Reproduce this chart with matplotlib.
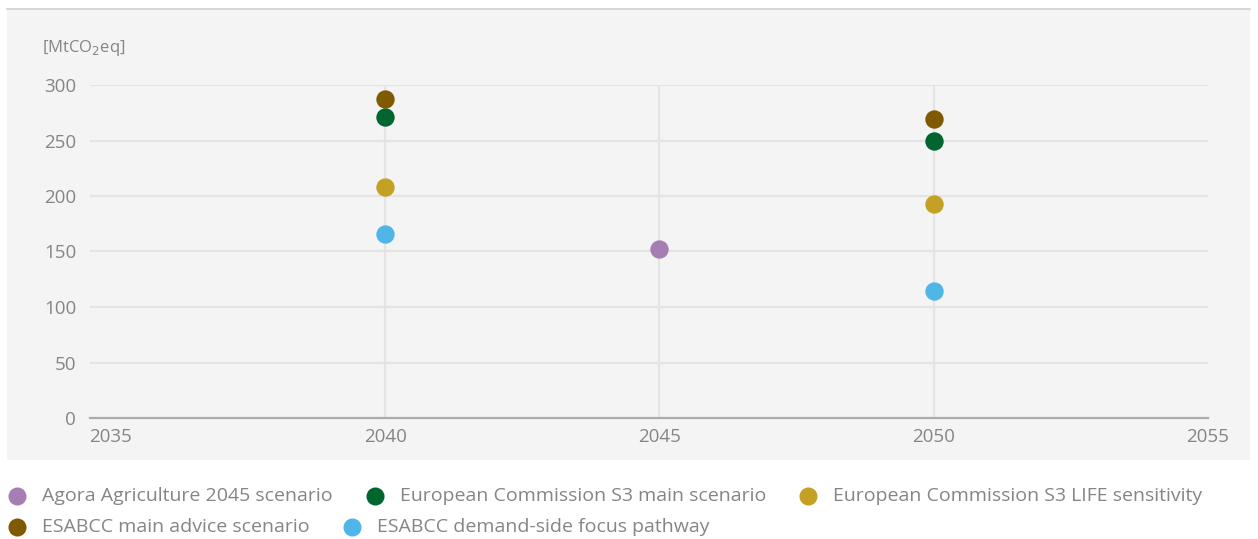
import matplotlib
matplotlib.use("Agg")
import matplotlib.pyplot as plt
from matplotlib.patches import Rectangle
from matplotlib.lines import Line2D

plt.rcParams['font.family'] = ['Open Sans', 'DejaVu Sans']

# data
series_names = ["Agora Agriculture 2045 scenario",
                "European Commission S3 main scenario",
                "European Commission S3 LIFE sensitivity",
                "ESABCC main advice scenario",
                "ESABCC demand-side focus pathway"]
series_colors = ["#A57FB3", "#00652E", "#C4A024", "#7F5A00", "#50B6E8"]
series_years = [[2045], [2040, 2050], [2040, 2050], [2040, 2050], [2040, 2050]]
series_values = [[152], [271, 250], [208, 193], [287, 269], [166, 114]]
x_ticks = [2035, 2040, 2045, 2050, 2055]
y_ticks = [0, 50, 100, 150, 200, 250, 300]
y_unit = "[MtCO$_2$eq]"

W, H = 1258, 539
fig = plt.figure(figsize=(W / 100, H / 100), dpi=100)
fig.patch.set_facecolor("white")

# grey panel + top rule
fig.patches.append(Rectangle((7 / W, 1 - 460 / H), 1243 / W, 451 / H,
                             transform=fig.transFigure, facecolor="#F4F4F4",
                             edgecolor="none", zorder=-10))
fig.add_artist(Line2D([7 / W, 1250 / W], [1 - 9 / H, 1 - 9 / H],
                      transform=fig.transFigure, color="#CFCFCF", lw=1.2,
                      zorder=-5))

ax = fig.add_axes([90 / W, 1 - 418 / H, 1118 / W, 333 / H])
ax.set_facecolor("none")
ax.set_xlim(2034.62, 2055)
ax.set_ylim(0, 300)

txt_col = "#858585"
for y in y_ticks[1:]:
    ax.axhline(y, color="#E4E4E4", lw=1.6, zorder=1)
for x in x_ticks[1:-1]:
    ax.axvline(x, color="#E4E4E4", lw=1.6, zorder=1)

for name, col, xs, ys in zip(series_names, series_colors, series_years, series_values):
    ax.scatter(xs, ys, s=175, color=col, zorder=3, linewidths=0)

for s in ["top", "right", "left"]:
    ax.spines[s].set_visible(False)
ax.spines["bottom"].set_color("#ABABAB")
ax.spines["bottom"].set_linewidth(1.6)

ax.set_xticks(x_ticks)
ax.set_yticks(y_ticks)
ax.tick_params(axis="both", length=0, labelsize=13.5, labelcolor=txt_col)
ax.tick_params(axis="x", pad=7)
ax.tick_params(axis="y", pad=10)

fig.text(42 / W, 1 - 48 / H, y_unit, fontsize=12, color=txt_col,
         va="center", ha="left")

# legend, flowing left to right
fig.canvas.draw()
renderer = fig.canvas.get_renderer()
x0, row_y, row_h = 17, 496, 31
x = x0
for name, col in zip(series_names, series_colors):
    t = fig.text(0, 0, name, fontsize=14, color=txt_col, va="center",
                 ha="left")
    w = t.get_window_extent(renderer).width
    if x + 25 + w > 1240:
        x = x0
        row_y += row_h
    t.set_position(((x + 25) / W, 1 - row_y / H))
    fig.add_artist(Line2D([x / W], [1 - row_y / H], transform=fig.transFigure,
                          marker="o", markersize=13, color=col, lw=0,
                          markeredgewidth=0))
    x = x + 25 + w + 42

fig.savefig("out.png", dpi=100, facecolor="white")
